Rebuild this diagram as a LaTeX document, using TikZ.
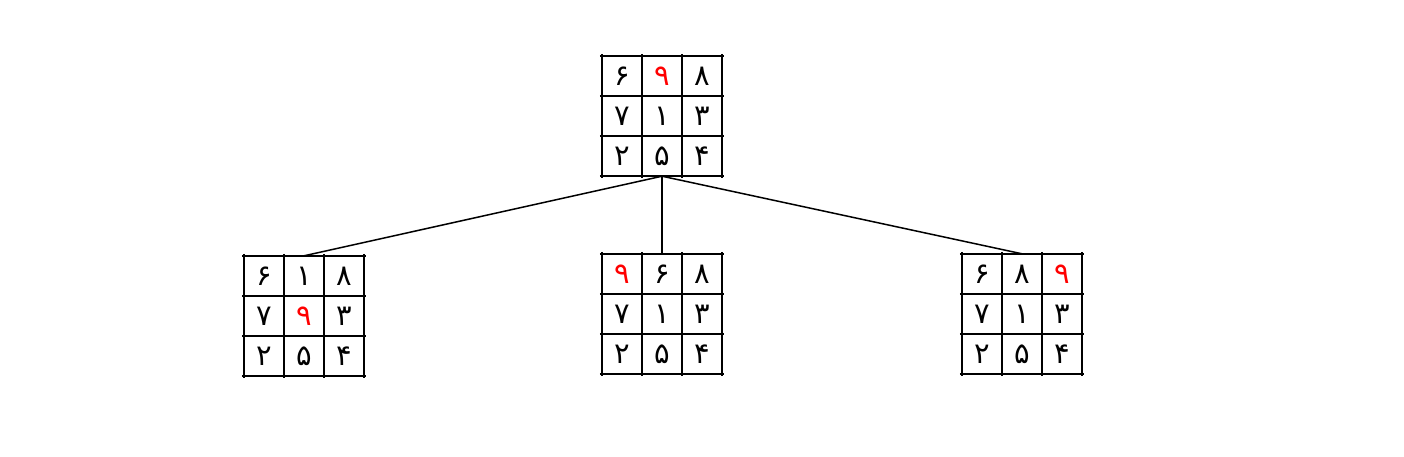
\documentclass[tikz,border=0pt]{standalone}
\usepackage{fontspec}
\usepackage{xcolor}
\usetikzlibrary{positioning,calc}
\newfontfamily\farsifont[Script=Arabic]{DejaVu Sans}
\newcommand{\rednine}{\textcolor{red}{۹}}

\begin{document}
\begin{tikzpicture}[x=1pt,y=-1pt]

	% Definitions.
	\tikzstyle{board}=[draw=none, minimum size=120pt, inner sep=0pt]
	\tikzstyle{gridline}=[line width=2pt, black]
	\tikzstyle{digit}=[inner sep=0pt, font=\farsifont\fontsize{29}{29}\selectfont]
	\tikzstyle{edge}=[line width=1.5pt, black]
	\def\CellSize{40pt}
	\def\LineOver{2pt}

	\useasboundingbox (0,0) rectangle (1404,456);

	% ---------- Boards ---------

	\node[board] (root) at (662,116) {};
	\node[board] (left) at (304,316) {};
	\node[board] (mid) at (662,314) {};
	\node[board] (right) at (1022,314) {};

	% ---------- Grid Lines ---------

	\foreach \b in {root,left,mid,right} {
		\foreach \i in {0,...,3} {
			\draw[gridline] ([xshift=\i*\CellSize,yshift=\LineOver]\b.north west) -- ([xshift=\i*\CellSize,yshift=-\LineOver]\b.south west);
			\draw[gridline] ([xshift=-\LineOver,yshift=-\i*\CellSize]\b.north west) -- ([xshift=\LineOver,yshift=-\i*\CellSize]\b.north east);
		}
	}

	% ---------- Digits ---------

	\foreach \b/\list in {
		root/{۶,\rednine,۸,۷,۱,۳,۲,۵,۴},
		left/{۶,۱,۸,۷,\rednine,۳,۲,۵,۴},
		mid/{\rednine,۶,۸,۷,۱,۳,۲,۵,۴},
		right/{۶,۸,\rednine,۷,۱,۳,۲,۵,۴}} {
		\foreach \d [count=\k from 0] in \list {
			\pgfmathtruncatemacro{\col}{mod(\k,3)}
			\pgfmathtruncatemacro{\row}{int(\k/3)}
			\node[digit] (\b-\k) at ([xshift={(\col+0.5)*\CellSize},yshift={-(\row+0.5)*\CellSize}]\b.north west) {\d};
		}
	}

	% ---------- Connectors ---------

	\draw[edge] (root.south) -- (left.north);
	\draw[edge] (root.south) -- (mid.north);
	\draw[edge] (root.south) -- (right.north);

\end{tikzpicture}
\end{document}
